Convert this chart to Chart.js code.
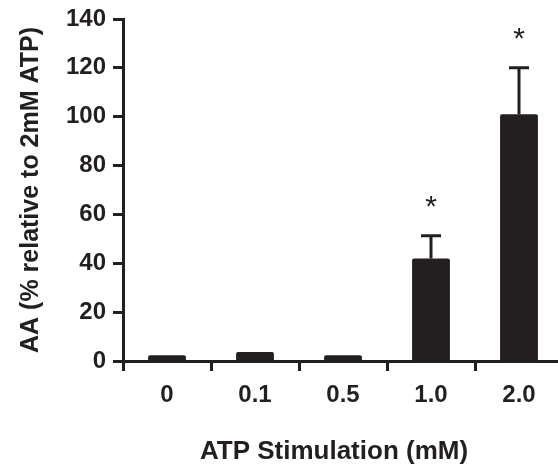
<!DOCTYPE html>
<html>
<head>
<meta charset="utf-8">
<script src="https://cdn.jsdelivr.net/npm/chart.js@4"></script>
<style>
    html, body { margin: 0; padding: 0; background: #fff; overflow: hidden; }
    #wrap { position: relative; width: 563px; height: 470px; }
</style>
</head>
<body>
<div id="wrap"><canvas id="atpChart"></canvas></div>
<script>
// Chart data
const categories = ['0', '0.1', '0.5', '1.0', '2.0'];
const aaValues = [2.4, 3.7, 2.4, 42, 101];
const aaErrors = [0, 0, 0, 9.3, 19];
const significance = ['', '', '', '*', '*'];
const yTicks = [0, 20, 40, 60, 80, 100, 120, 140];
const xTitle = 'ATP Stimulation (mM)';

const ink = '#231f20';
const fontFamily = '"Liberation Sans", Arial, Helvetica, sans-serif';

// Draw upward error bars and asterisks
const errorBarPlugin = {
    id: 'errorBars',
    afterDatasetsDraw(chart) {
        const { ctx, scales } = chart;
        const x = scales.x;
        const y = scales.y;
        ctx.save();
        ctx.strokeStyle = ink;
        ctx.fillStyle = ink;
        ctx.lineWidth = 3;
        aaValues.forEach((v, i) => {
            const err = aaErrors[i];
            if (!err) return;
            const px = x.getPixelForValue(i);
            const yBar = y.getPixelForValue(v);
            const yTop = y.getPixelForValue(v + err);
            ctx.beginPath();
            ctx.moveTo(px, yBar);
            ctx.lineTo(px, yTop);
            ctx.moveTo(px - 10, yTop);
            ctx.lineTo(px + 10, yTop);
            ctx.stroke();
            if (significance[i]) {
                ctx.font = `30px ${fontFamily}`;
                ctx.textAlign = 'center';
                ctx.textBaseline = 'alphabetic';
                ctx.fillText(significance[i], px, yTop - 20);
            }
        });
        ctx.restore();
    },
};

// x axis title, centred a little left of the plot like the original
const xTitlePlugin = {
    id: 'xTitle',
    afterDraw(chart) {
        const { ctx, chartArea } = chart;
        ctx.save();
        ctx.fillStyle = ink;
        ctx.font = `bold 26px ${fontFamily}`;
        ctx.textAlign = 'center';
        ctx.textBaseline = 'middle';
        ctx.fillText(xTitle, chartArea.left + 211, chart.height - 18);
        ctx.restore();
    },
};

new Chart(document.getElementById('atpChart').getContext('2d'), {
    type: 'bar',
    data: {
        labels: categories,
        datasets: [
            {
                label: 'AA',
                data: aaValues,
                backgroundColor: ink,
                barPercentage: 0.43,
                categoryPercentage: 1,
                borderRadius: 2,
            },
        ],
    },
    options: {
        responsive: true,
        maintainAspectRatio: false,
        animation: false,
        layout: { padding: 0 },
        plugins: {
            legend: { display: false },
            tooltip: { enabled: false },
        },
        scales: {
            x: {
                grid: {
                    display: true,
                    offset: true,
                    drawOnChartArea: false,
                    drawTicks: true,
                    tickLength: 10,
                    tickWidth: 3,
                    tickColor: ink,
                },
                border: { display: true, color: ink, width: 3 },
                ticks: {
                    color: ink,
                    padding: 10,
                    font: { family: fontFamily, size: 24, weight: 'bold' },
                },
                afterFit: (scale) => { scale.height = 109; },
            },
            y: {
                min: 0,
                max: 140,
                afterBuildTicks: (scale) => {
                    scale.ticks = yTicks.map((v) => ({ value: v }));
                },
                grid: {
                    display: true,
                    drawOnChartArea: false,
                    drawTicks: true,
                    tickLength: 10,
                    tickWidth: 3,
                    tickColor: ink,
                },
                border: { display: true, color: ink, width: 3 },
                ticks: {
                    color: ink,
                    padding: 7,
                    font: { family: fontFamily, size: 24, weight: 'bold', lineHeight: 1 },
                },
                title: {
                    display: true,
                    text: 'AA (% relative to 2mM ATP)',
                    color: ink,
                    font: { family: fontFamily, size: 25, weight: 'bold' },
                    padding: { top: 16, bottom: 0 },
                },
                afterFit: (scale) => { scale.width = 123; },
            },
        },
    },
    plugins: [errorBarPlugin, xTitlePlugin],
});
</script>
</body>
</html>
